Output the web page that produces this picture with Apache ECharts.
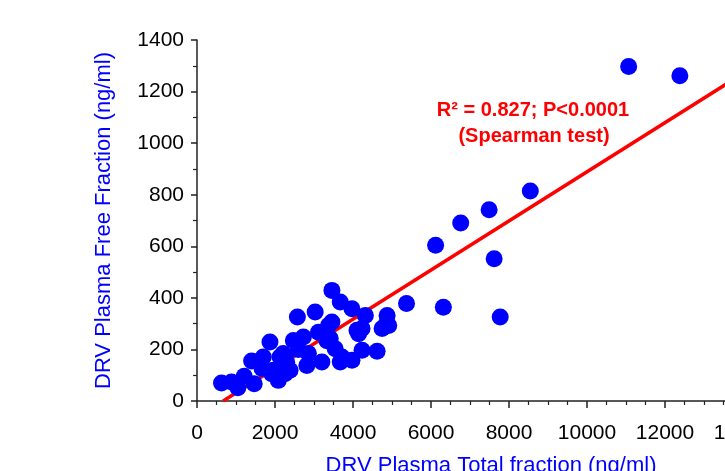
<!DOCTYPE html>
<html>
<head>
<meta charset="utf-8">
<script src="https://cdn.jsdelivr.net/npm/echarts@6/dist/echarts.min.js"></script>
<style>html,body{margin:0;padding:0;background:#fff;}#c{width:725px;height:471px;}</style>
</head>
<body>
<div id="c"></div>
<script>
// Total fraction (ng/ml)
var totalX = [628,885,1048,1210,1467,1400,1668,1699,1871,1915,1956,2085,2129,2257,2386,2300,2210,2257,2471,2574,2600,2728,2816,2857,3030,3114,3202,3331,3372,3416,3459,3459,3544,3673,3673,3717,3974,3974,4103,4144,4232,4232,4317,4618,4746,4857,4875,4916,5372,6118,6317,6762,7490,7619,7774,8546,11068,12381];
// Free fraction (ng/ml)
var freeY  = [70,74,51,96,67,155,126,171,229,106,119,80,171,106,119,150,184,171,235,326,200,248,138,184,345,267,151,234,293,242,429,306,203,384,151,171,358,158,274,261,281,197,332,193,281,300,332,293,378,604,364,690,742,552,326,814,1297,1261];
// Regression line endpoints
var fitX = [669, 14000];
var fitY = [0, 1270];
var xTicks = [0,2000,4000,6000,8000,10000,12000,14000];
var yTicks = [0,200,400,600,800,1000,1200,1400];

var pts = totalX.map(function(x,i){return [x, freeY[i]];});
var fit = fitX.map(function(x,i){return [x, fitY[i]];});
var FONT = 'Liberation Sans, Arial, sans-serif';
var chart = echarts.init(document.getElementById('c'));
chart.setOption({
  animation:false,
  backgroundColor:'#fff',
  grid:{left:197, top:40, width:546, height:361, containLabel:false, outerBoundsMode:'none'},
  xAxis:{
    type:'value', min:xTicks[0], max:xTicks[xTicks.length-1], interval:2000,
    axisLine:{lineStyle:{color:'#222', width:1.5}},
    axisTick:{length:7, lineStyle:{color:'#222', width:1.5}},
    minorTick:{show:true, splitNumber:4, length:4, lineStyle:{color:'#222', width:1.2}},
    splitLine:{show:false},
    axisLabel:{color:'#000', fontSize:21, fontFamily:FONT, margin:22, formatter:function(v){return String(v);}},
    name:'DRV Plasma Total fraction (ng/ml)', nameLocation:'middle', nameGap:54,
    nameTextStyle:{color:'#0000ff', fontSize:22, fontFamily:FONT, padding:[0,0,0,42]}
  },
  yAxis:{
    type:'value', min:yTicks[0], max:yTicks[yTicks.length-1], interval:200,
    axisLine:{show:true, lineStyle:{color:'#222', width:1.5}},
    axisTick:{show:true, length:6, lineStyle:{color:'#222', width:1.5}},
    minorTick:{show:true, splitNumber:2, length:4, lineStyle:{color:'#222', width:1.2}},
    splitLine:{show:false},
    axisLabel:{color:'#000', fontSize:21, fontFamily:FONT, margin:13, formatter:function(v){return String(v);}},
    name:'DRV Plasma Free Fraction (ng/ml)', nameLocation:'middle', nameGap:82, nameRotate:90,
    nameTextStyle:{color:'#0000ff', fontSize:22, fontFamily:FONT}
  },
  graphic:[
    {type:'text', style:{text:'R² = 0.827; P<0.0001', x:533, y:110, fill:'#ff0000', font:'bold 20px Liberation Sans, Arial, sans-serif', textAlign:'center', textVerticalAlign:'middle'}},
    {type:'text', style:{text:'(Spearman test)', x:534, y:136, fill:'#ff0000', font:'bold 20px Liberation Sans, Arial, sans-serif', textAlign:'center', textVerticalAlign:'middle'}}
  ],
  series:[
    {type:'line', data:fit, symbol:'none', lineStyle:{color:'#ff0000', width:3.5}, z:1, silent:true},
    {type:'scatter', data:pts, symbolSize:17, itemStyle:{color:'#0000ff', opacity:1}, z:2}
  ]
});
</script>
</body>
</html>
